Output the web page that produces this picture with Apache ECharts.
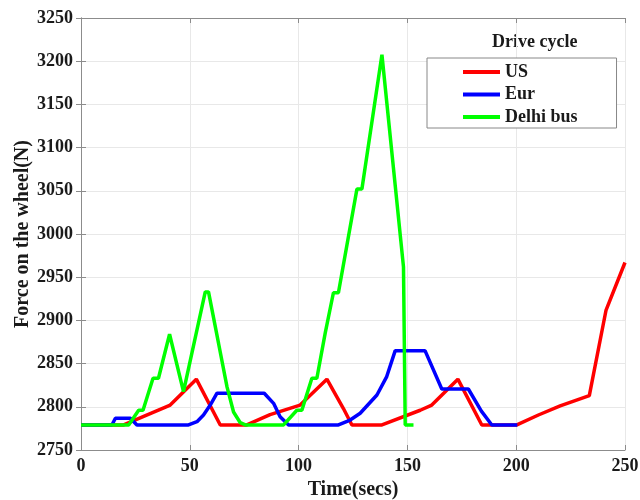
<!DOCTYPE html>
<html>
<head>
<meta charset="utf-8">
<script src="https://cdn.jsdelivr.net/npm/echarts@6/dist/echarts.min.js"></script>
<style>html,body{margin:0;padding:0;background:#fff}#chart{width:640px;height:500px}</style>
</head>
<body>
<div id="chart"></div>
<script>
// Data
const usTime   = [0, 19.6, 41, 53, 64, 76.2, 86.9, 100.7, 113, 120.6, 124.5, 138.3, 155.9, 161.2, 173.2, 184.2, 200.3, 210.2, 220.2, 233.6, 241.3, 250];
const usForce  = [2779, 2779, 2802, 2832, 2779, 2779, 2791, 2802, 2832, 2798, 2779, 2779, 2796, 2802, 2832, 2779, 2779, 2790.5, 2801, 2813, 2912, 2967];

const eurTime  = [0, 14.2, 15.8, 22.7, 25.7, 49.4, 53.3, 56.3, 59.4, 62.5, 84.2, 88.5, 91.5, 95.4, 118.3, 123.7, 128.3, 136, 140.5, 144.4, 158.1, 165.8, 178, 184, 188.8, 200.5];
const eurForce = [2779, 2779, 2786.7, 2786.7, 2779, 2779, 2782.8, 2790.5, 2802, 2815.7, 2815.7, 2804, 2788.6, 2779, 2779, 2784.7, 2792.5, 2813.7, 2835, 2865, 2865, 2820.6, 2820.6, 2795, 2779, 2779];

const delhiTime  = [0, 21.9, 26.5, 28.5, 33.1, 35.6, 40.7, 47.1, 57.1, 58.6, 63.2, 67.1, 70.1, 73.2, 75.5, 93.1, 99.2, 101.5, 106.1, 108.4, 112.2, 116, 118.3, 126.8, 129.1, 138.3, 148.2, 149, 152.8];
const delhiForce = [2779, 2779, 2796, 2796, 2833, 2833, 2884, 2817.5, 2933, 2933, 2873.6, 2823, 2794, 2781.6, 2779, 2779, 2796, 2796, 2833, 2833, 2885, 2932, 2932, 3052, 3052, 3207.5, 2962, 2779, 2779];

const seriesNames = ['US', 'Eur', 'Delhi bus'];
const xTicks = {min: 0, max: 250, interval: 50};
const yTicks = {min: 2750, max: 3250, interval: 50};

function pairs(t, v) { return t.map((x, i) => [x, v[i]]); }

const FONT = '"Liberation Serif", "Times New Roman", serif';
const axisGray = '#8c8c8c';
const txt = '#1a1a1a';

const chart = echarts.init(document.getElementById('chart'), null, {renderer: 'canvas'});
chart.setOption({
  animation: false,
  backgroundColor: '#fff',
  grid: {left: 81, right: 15, top: 18, bottom: 50, containLabel: false, outerBoundsMode: 'none'},
  graphic: [{
    type: 'text', left: 492, top: 33,
    style: {text: 'Drive cycle', font: 'bold 18px ' + FONT, fill: txt}
  }],
  legend: {
    orient: 'vertical', left: 427, top: 58,
    padding: [5, 39, 2, 36], itemWidth: 37, itemHeight: 4, itemGap: 4.5, itemTextGap: 4,
    icon: 'rect',
    borderColor: '#888', borderWidth: 1, backgroundColor: '#fff',
    textStyle: {fontFamily: FONT, fontWeight: 'bold', fontSize: 18, color: txt},
    data: seriesNames
  },
  xAxis: [{
    type: 'value', min: xTicks.min, max: xTicks.max, interval: xTicks.interval,
    name: 'Time(secs)', nameLocation: 'middle', nameGap: 30,
    nameTextStyle: {fontFamily: FONT, fontWeight: 'bold', fontSize: 20, color: txt},
    axisLine: {show: true, lineStyle: {color: axisGray, width: 1}},
    axisTick: {show: true, inside: true, length: 5, lineStyle: {color: axisGray}},
    axisLabel: {fontFamily: FONT, fontWeight: 'bold', fontSize: 18, color: txt, margin: 7},
    splitLine: {show: true, lineStyle: {color: '#e8e8e8', width: 1}}
  }, {
    type: 'value', position: 'top', min: xTicks.min, max: xTicks.max, interval: xTicks.interval,
    axisLine: {show: true, lineStyle: {color: axisGray, width: 1}},
    axisTick: {show: true, inside: true, length: 5, lineStyle: {color: axisGray}},
    axisLabel: {show: false}, splitLine: {show: false}
  }],
  yAxis: [{
    type: 'value', min: yTicks.min, max: yTicks.max, interval: yTicks.interval,
    name: 'Force on the wheel(N)', nameLocation: 'middle', nameGap: 48, nameMoveOverlap: false,
    nameTextStyle: {fontFamily: FONT, fontWeight: 'bold', fontSize: 20, color: txt},
    axisLine: {show: true, lineStyle: {color: axisGray, width: 1}},
    axisTick: {show: true, inside: true, length: 5, lineStyle: {color: axisGray}},
    axisLabel: {fontFamily: FONT, fontWeight: 'bold', fontSize: 18, color: txt, margin: 8,
                formatter: v => String(v)},
    splitLine: {show: true, lineStyle: {color: '#e8e8e8', width: 1}}
  }, {
    type: 'value', position: 'right', min: yTicks.min, max: yTicks.max, interval: yTicks.interval,
    axisLine: {show: true, lineStyle: {color: axisGray, width: 1}},
    axisTick: {show: true, inside: true, length: 5, lineStyle: {color: axisGray}},
    axisLabel: {show: false}, splitLine: {show: false}
  }],
  series: [
    {name: seriesNames[0], type: 'line', data: pairs(usTime, usForce), symbol: 'none',
     lineStyle: {color: '#ff0000', width: 3.5}, itemStyle: {color: '#ff0000'}},
    {name: seriesNames[1], type: 'line', data: pairs(eurTime, eurForce), symbol: 'none',
     lineStyle: {color: '#0000ff', width: 3.5}, itemStyle: {color: '#0000ff'}},
    {name: seriesNames[2], type: 'line', data: pairs(delhiTime, delhiForce), symbol: 'none',
     lineStyle: {color: '#00ff00', width: 3.5}, itemStyle: {color: '#00ff00'}}
  ]
});
</script>
</body>
</html>
